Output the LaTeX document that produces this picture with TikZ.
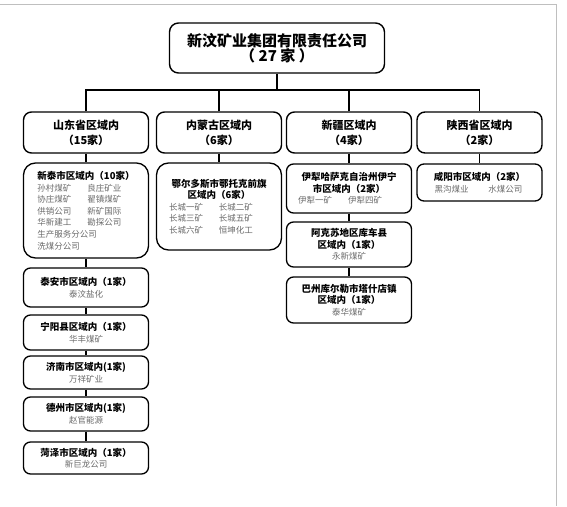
\documentclass[tikz,border=0pt]{standalone}
\usepackage{fontspec}
\setmainfont{Noto Sans CJK SC}
\usepackage{xcolor}
\usepackage{tikz}
\usetikzlibrary{positioning}
\newcommand\hd{\bfseries\fontsize{9.5}{12}\selectfont}
\newcommand\mines{\color{black!58}\fontsize{8.5}{11.5}\selectfont}
\newcommand\pair[3][50pt]{\makebox[#1][l]{#2}#3}

\begin{document}
\begin{tikzpicture}[x=1pt, y=-1pt,
				org/.style={draw=black, fill=white, rectangle, rounded corners=9pt, line width=1.4pt,
						minimum width=215pt, minimum height=50pt, align=center,
						font=\bfseries\fontsize{15}{15}\selectfont},
				region/.style={draw=black, fill=white, rectangle, rounded corners=8pt, line width=1.4pt,
						minimum width=125pt, minimum height=41pt, align=center,
						font=\bfseries\fontsize{11}{15}\selectfont},
				city/.style={draw=black, fill=white, rectangle, rounded corners=7pt, line width=1.3pt,
						minimum width=125pt, inner sep=0pt, align=center,
						font=\fontsize{8.5}{11.6}\selectfont},
				link/.style={line width=1.4pt},
				frame/.style={draw=black!25, line width=0.8pt},
			]
			\useasboundingbox (0,0) rectangle (567,506);
			\draw[frame] (0,4) -- (556,4) -- (556,506);
			\node[org] (grp) at (277,48) {新汶矿业集团有限责任公司\\（ 27 家 ）};
			\coordinate (bus) at (277,90);
			\node[region] (sd) at ( 86.0,132.5) {山东省区域内\\（15家）};
			\node[region] (nm) at (219.0,132.5) {内蒙古区域内\\（6家）};
			\node[region] (xj) at (349.0,132.5) {新疆区域内\\（4家）};
			\node[region] (sx) at (479.5,132.5) {陕西省区域内\\（2家）};
			\draw[link] (grp.south) -- (bus);
			\draw[link] (sd.north) |- (bus) -| (sx.north);
			\draw[link] (nm.north) -- (nm.north |- bus);
			\draw[link] (xj.north) -- (xj.north |- bus);
			% Shandong
			\node[city, rounded corners=12pt, minimum height=95pt, align=left] (xt) at (86,210.5)
			{\hd 新泰市区域内（10家）\\
				\mines\pair{孙村煤矿}{良庄矿业}\\
				\mines\pair{协庄煤矿}{翟镇煤矿}\\
				\mines\pair{供销公司}{新矿国际}\\
				\mines\pair{华新建工}{勘探公司}\\
				\mines 生产服务分公司\\
				\mines 洗煤分公司};
			\node[city, minimum height=39pt] (ta) at (86,287.5) {\hd 泰安市区域内（1家）\\ \mines 泰汶盐化};
			\node[city, minimum height=35pt] (ny) at (86,332.5) {\hd 宁阳县区域内（1家）\\ \mines 华丰煤矿};
			\node[city, minimum height=33pt] (jn) at (86,372.5) {\hd 济南市区域内(1家)\\ \mines 万祥矿业};
			\node[city, minimum height=34pt] (dz) at (86,414.0) {\hd 德州市区域内(1家)\\ \mines 赵官能源};
			\node[city, minimum height=32pt] (hz) at (86,458.0) {\hd 菏泽市区域内（1家）\\ \mines 新巨龙公司};
			\draw[link] (sd.south) -- (xt.north);
			\draw[link] (xt.south) -- (ta.north);
			\draw[link] (ta.south) -- (ny.north);
			\draw[link] (ny.south) -- (jn.north);
			\draw[link] (jn.south) -- (dz.north);
			\draw[link] (dz.south) -- (hz.north);
			% Inner Mongolia
			\node[city, rounded corners=12pt, minimum height=87pt] (ed) at (219,206.5)
			{\hd 鄂尔多斯市鄂托克前旗\\
				\hd 区域内（6家）\\
				\mines\makebox[100pt][l]{\pair{长城一矿}{长城二矿}}\\
				\mines\makebox[100pt][l]{\pair{长城三矿}{长城五矿}}\\
				\mines\makebox[100pt][l]{\pair{长城六矿}{恒坤化工}}};
			\draw[link] (nm.south) -- (ed.north);
			% Xinjiang
			\node[city, minimum height=49pt] (yl) at (349,188.5)
			{\hd 伊犁哈萨克自治州伊宁\\ \hd 市区域内（2家）\\
				\mines\makebox[102pt][l]{\pair{伊犁一矿}{伊犁四矿}}};
			\node[city, minimum height=45pt] (ak) at (349,244.5)
			{\hd 阿克苏地区库车县\\ \hd 区域内（1家）\\ \mines 永新煤矿};
			\node[city, minimum height=46pt] (bz) at (349,300.0)
			{\hd 巴州库尔勒市塔什店镇\\ \hd 区域内（1家）\\ \mines 泰华煤矿};
			\draw[link] (xj.south) -- (yl.north);
			\draw[link] (yl.south) -- (ak.north);
			\draw[link] (ak.south) -- (bz.north);
			% Shaanxi
			\node[city, minimum height=37pt] (xy) at (479.5,182.5)
			{\hd 咸阳市区域内（2家）\\
				\mines\makebox[90pt][l]{\pair[54pt]{黑沟煤业}{水煤公司}}};
			\draw[link] (sx.south) -- (xy.north);
		\end{tikzpicture}
\end{document}
